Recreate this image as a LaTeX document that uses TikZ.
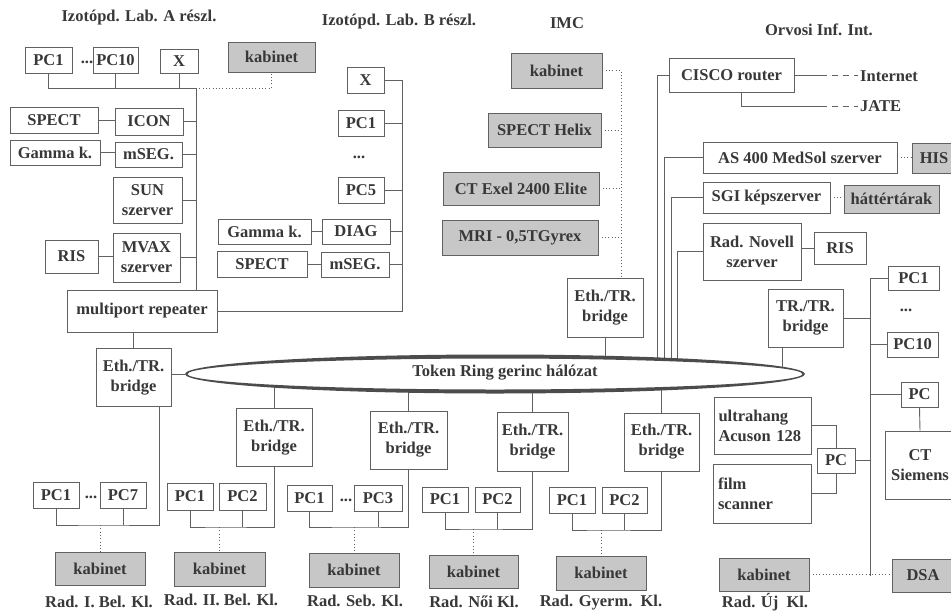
\documentclass[tikz,border=0pt]{standalone}
\usepackage{fontspec}
\setmainfont{Liberation Serif}
\usetikzlibrary{positioning, shapes.geometric}
\definecolor{linec}{gray}{0.38}
\definecolor{txtc}{gray}{0.22}
\definecolor{kabc}{gray}{0.78}
\definecolor{ringc}{gray}{0.3}

\begin{document}
\begin{tikzpicture}[
  x=1pt, y=-1pt,
  every node/.style={font=\fontsize{16.5}{20}\selectfont\bfseries, text=txtc},
  box/.style={draw=linec, line width=0.9pt, inner sep=0pt, align=center},
  gbox/.style={box, fill=kabc},
  pc/.style={box, minimum width=46pt, minimum height=26pt},
  bridge/.style={box, minimum width=75pt, minimum height=58pt},
  kab/.style={gbox, minimum width=90pt, minimum height=33pt},
  conn/.style={linec, line width=0.9pt},
  dotc/.style={linec, line width=0.9pt, dash pattern=on 0.9pt off 2.4pt},
  dashc/.style={linec, line width=0.9pt, dash pattern=on 6pt off 5pt},
]
\useasboundingbox (0,0) rectangle (951,614);
\fill[white] (0,0) rectangle (951,614);

% headers
\node (hA) at (139,18) {Izotópd. Lab. A részl.};
\node (hB) at (399,22) {Izotópd. Lab. B részl.};
\node (hI) at (567,23) {IMC};
\node (hO) at (819,30) {Orvosi Inf. Int.};

% Izotopd. Lab. A
\node[pc, minimum width=47pt] (aPC1) at (48.5,60) {PC1};
\node (adots) at (87,62) {...};
\node[pc, minimum width=45pt] (aPC10) at (115.5,60) {PC10};
\node[box, minimum width=38pt, minimum height=24pt] (aX) at (179,61) {X};
\node[kab, minimum width=87pt, minimum height=30pt] (akab) at (271.5,57) {kabinet};
\node[box, minimum width=88pt, minimum height=26pt] (aSPECT) at (54,120) {SPECT};
\node[box, minimum width=68pt, minimum height=27pt] (aICON) at (149,121.5) {ICON};
\node[box, minimum width=90pt, minimum height=25pt] (aGamma) at (55,152.5) {Gamma k.};
\node[box, minimum width=67pt, minimum height=25pt] (amSEG) at (148.5,154.5) {mSEG.};
\node[box, minimum width=69pt, minimum height=46pt] (aSUN) at (147.5,200) {SUN\\szerver};
\node[box, minimum width=53pt, minimum height=33pt] (aRIS) at (71.5,256.5) {RIS};
\node[box, minimum width=67pt, minimum height=49pt] (aMVAX) at (146.5,257.5) {MVAX\\szerver};
\node[box, minimum width=150pt, minimum height=42pt] (amulti) at (142,311) {multiport repeater};
\node[bridge] (aBr) at (133.5,377.5) {Eth./TR.\\bridge};

\coordinate (abus) at (196,88);
\draw[conn] (aPC1.south) |- (abus);
\draw[conn] (aPC10.south) -- (aPC10.south |- abus);
\draw[conn] (aX.south) -- (aX.south |- abus);
\draw[conn] (abus) -- (abus |- amulti.north);
\draw[conn] (aSPECT.east) -- (aSPECT.east -| aICON.west);
\draw[conn] (aICON.east) -- (aICON.east -| abus);
\draw[conn] (aGamma.east) -- (aGamma.east -| amSEG.west);
\draw[conn] (amSEG.east) -- (amSEG.east -| abus);
\draw[conn] (aSUN.east) -- (aSUN.east -| abus);
\draw[conn] (aRIS.east) -- (aRIS.east -| aMVAX.west);
\draw[conn] (aMVAX.east) -- (aMVAX.east -| abus);
\draw[conn] (amulti.south -| aBr.north) -- (aBr.north);
\draw[dotc] (abus) -| (akab.south);

% Izotopd. Lab. B
\node[box, minimum width=37pt, minimum height=26pt] (bX) at (365.5,80) {X};
\node[pc] (bPC1) at (361,123.5) {PC1};
\node (bdots) at (359,157) {...};
\node[pc] (bPC5) at (361,190) {PC5};
\node[box, minimum width=93pt, minimum height=25pt] (bGamma) at (264.5,231.5) {Gamma k.};
\node[box, minimum width=68pt, minimum height=25pt] (bDIAG) at (356,231.5) {DIAG};
\node[box, minimum width=90pt, minimum height=26pt] (bSPECT) at (262,264) {SPECT};
\node[box, minimum width=68pt, minimum height=25pt] (bmSEG) at (355,264.5) {mSEG.};

\coordinate (bbus) at (402,80);
\draw[conn] (bX.east) -- (bbus) -- (bbus |- amulti.east) -- (amulti.east);
\draw[conn] (bPC1.east) -- (bPC1.east -| bbus);
\draw[conn] (bPC5.east) -- (bPC5.east -| bbus);
\draw[conn] (bGamma.east) -- (bDIAG.west);
\draw[conn] (bDIAG.east) -- (bDIAG.east -| bbus);
\draw[conn] (bSPECT.east) -- (bSPECT.east -| bmSEG.west);
\draw[conn] (bmSEG.east) -- (bmSEG.east -| bbus);

% IMC
\node[kab, minimum width=91pt, minimum height=35pt] (ikab) at (556.5,70.5) {kabinet};
\node[gbox, minimum width=113pt, minimum height=34pt] (iHelix) at (544.5,130) {SPECT Helix};
\node[gbox, minimum width=156pt, minimum height=33pt] (iCT) at (521,188.5) {CT Exel 2400 Elite};
\node[gbox, minimum width=156pt, minimum height=35pt] (iMRI) at (520,237.5) {MRI - 0,5TGyrex};
\node[bridge, minimum width=76pt, minimum height=59pt] (iBr) at (605,307.5) {Eth./TR.\\bridge};

\coordinate (ibus) at (621,70.5);
\draw[dotc] (ikab.east) -- (ibus) -- (ibus |- iBr.north);
\draw[dotc] (iHelix.east) -- (iHelix.east -| ibus);
\draw[dotc] (iCT.east) -- (iCT.east -| ibus);
\draw[dotc] (iMRI.east) -- (iMRI.east -| ibus);

% Orvosi Inf. Int.
\node[box, minimum width=125pt, minimum height=34pt] (oCisco) at (731.5,75) {CISCO router};
\node[anchor=west, inner sep=2pt] (inet) at (858,76) {Internet};
\node[anchor=west, inner sep=2pt] (jate) at (858,106) {JATE};
\node[box, minimum width=194pt, minimum height=31pt] (oAS) at (800,157.5) {AS 400 MedSol szerver};
\node[gbox, minimum width=44pt, minimum height=30pt] (oHIS) at (934,158) {HIS};
\node[box, minimum width=127pt, minimum height=31pt] (oSGI) at (766.5,197.5) {SGI képszerver};
\node[gbox, minimum width=95pt, minimum height=28pt] (oHat) at (891.5,199) {háttértárak};
\node[box, minimum width=98pt, minimum height=57pt] (oNovell) at (752,251.5) {Rad. Novell\\szerver};
\node[box, minimum width=52pt, minimum height=32pt] (oRIS) at (840,248) {RIS};
\node[bridge] (oTR) at (805.5,318) {TR./TR.\\bridge};
\node[box, minimum width=51pt, minimum height=24pt] (oPC1) at (913.5,278) {PC1};
\node (odots) at (906,310) {...};
\node[box, minimum width=51pt, minimum height=25pt] (oPC10) at (912.5,344.5) {PC10};
\node[box, minimum width=37pt, minimum height=25pt] (oPC) at (919.5,394.5) {PC};
\node[box, minimum width=70pt, minimum height=68pt] (oCT) at (920,465) {CT\\Siemens};
\node[box, minimum width=97pt, minimum height=57pt, text width=88pt, align=left] (oUltra) at (762.5,425.5) {ultrahang\\Acuson 128};
\node[box, minimum width=98pt, minimum height=59pt, text width=88pt, align=left] (oFilm) at (762,493.5) {film\\scanner};
\node[box, minimum width=38pt, minimum height=25pt] (oPCu) at (836,460.5) {PC};
\node[kab] (okab) at (764,574.5) {kabinet};
\node[gbox, minimum width=62pt, minimum height=33pt] (oDSA) at (923,575.5) {DSA};
\node (rad6) at (765,602) {Rad. Új\ \ Kl.};

\draw[conn] (oCisco.east) -- ++(27,0) coordinate (ci1);
\draw[dashc] (ci1) -- (ci1 -| inet.west);
\coordinate (ci2) at (821,106);
\draw[conn] ([xshift=10pt]oCisco.south) |- (ci2);
\draw[dashc] (ci2) -- (jate.west);
\draw[dotc] (oAS.east) -- (oAS.east -| oHIS.west);
\draw[dotc] (oSGI.east) -- (oSGI.east -| oHat.west);
\draw[conn] (oRIS.west) -- (oRIS.west -| oNovell.east);

\coordinate (obus) at (870,278);
\draw[conn] (oPC1.west) -- (obus) -- (obus |- oDSA.west);
\draw[conn] (oPC10.west) -- (oPC10.west -| obus);
\draw[conn] (oPC.west) -- (oPC.west -| obus);
\draw[conn] (oTR.east) -- (oTR.east -| obus);
\draw[conn] (oPCu.east) -- (oPCu.east -| obus);
\draw[conn] (oPC.south) -- (oCT.north);
\draw[conn] (oUltra.east) -| (oPCu.north);
\draw[conn] (oFilm.east) -| (oPCu.south);
\draw[dotc] (okab.east) -- (okab.east -| oDSA.west);

% bottom departments
\node[pc] (c1a) at (56,495) {PC1};
\node (c1dots) at (91,497) {...};
\node[pc] (c1b) at (123,495) {PC7};
\node[kab] (kab1) at (100,568.5) {kabinet};
\node (rad1) at (99,602) {Rad. I. Bel. Kl.};

\node[bridge, minimum width=76pt] (b2) at (274,437.5) {Eth./TR.\\bridge};
\node[pc, minimum height=27pt] (c2a) at (190,496.5) {PC1};
\node[pc, minimum width=47pt, minimum height=27pt] (c2b) at (242.5,496.5) {PC2};
\node[kab, minimum width=91pt, minimum height=34pt] (kab2) at (219.5,569) {kabinet};
\node (rad2) at (221,600) {Rad. II. Bel. Kl.};

\node[bridge, minimum width=77pt] (b3) at (408.5,440) {Eth./TR.\\bridge};
\node[pc, minimum width=45pt] (c3a) at (309.5,498) {PC1};
\node (c3dots) at (346,500) {...};
\node[pc, minimum width=48pt] (c3b) at (378,498) {PC3};
\node[kab, minimum height=34pt] (kab3) at (354,570) {kabinet};
\node (rad3) at (355,601) {Rad. Seb. Kl.};

\node[bridge, minimum width=71pt, minimum height=59pt] (b4) at (532.5,441.5) {Eth./TR.\\bridge};
\node[pc, minimum height=25pt] (c4a) at (445,499.5) {PC1};
\node[pc, minimum width=45pt, minimum height=25pt] (c4b) at (497.5,499.5) {PC2};
\node[kab, minimum width=89pt] (kab4) at (473.5,571.5) {kabinet};
\node (rad4) at (474,602) {Rad. Női Kl.};

\node[bridge] (b5) at (661.5,442) {Eth./TR.\\bridge};
\node[pc] (c5a) at (572,500) {PC1};
\node[pc, minimum width=45pt] (c5b) at (624.5,500) {PC2};
\node[kab, minimum height=34pt] (kab5) at (601,573) {kabinet};
\node (rad5) at (601,603) {Rad. Gyerm.\ \ Kl.};

\coordinate (k1) at (100,525);
\coordinate (k2) at (219.5,527);
\coordinate (k3) at (354,527);
\coordinate (k4) at (473.5,529);
\coordinate (k5) at (601,530);
\draw[conn] ([xshift=26pt]aBr.south) |- (k1) -| (c1a.south);
\draw[conn] (c1b.south) -- (c1b.south |- k1);
\draw[dotc] (k1) -- (kab1.north);
\draw[conn] (b2.south) |- (k2) -| (c2a.south);
\draw[conn] (c2b.south) -- (c2b.south |- k2);
\draw[dotc] (k2) -- (kab2.north);
\draw[conn] (b3.south) |- (k3) -| (c3a.south);
\draw[conn] (c3b.south) -- (c3b.south |- k3);
\draw[dotc] (k3) -- (kab3.north);
\draw[conn] (b4.south) |- (k4) -| (c4a.south);
\draw[conn] (c4b.south) -- (c4b.south |- k4);
\draw[dotc] (k4) -- (kab4.north);
\draw[conn] (b5.south) |- (k5) -| (c5a.south);
\draw[conn] (c5b.south) -- (c5b.south |- k5);
\draw[dotc] (k5) -- (kab5.north);

% Token Ring backbone
\node[ellipse, minimum width=620pt, minimum height=39pt, inner sep=0pt] (ring) at (495,374) {};
\coordinate (ol1) at (657,374);
\coordinate (ol2) at (664,374);
\coordinate (ol3) at (671,374);
\coordinate (ol4) at (677,374);
\draw[conn] (oCisco.west) -| (ol1);
\draw[conn] (oAS.west) -| (ol2);
\draw[conn] (oSGI.west) -| (ol3);
\draw[conn] (oNovell.west) -| (ol4);
\draw[conn] ([xshift=-23pt]oTR.south) -- ++(0,30);
\draw[conn] (iBr.south) -- (iBr.south |- ring.center);
\draw[conn] (b2.north) -- (b2.north |- ring.center);
\draw[conn] (b3.north) -- (b3.north |- ring.center);
\draw[conn] (b4.north) -- (b4.north |- ring.center);
\draw[conn] (b5.north) -- (b5.north |- ring.center);
\draw[conn] (aBr.east |- ring.west) -- (ring.west);
\fill[white] (ring.center) ellipse [x radius=309, y radius=17];
\fill[ringc, even odd rule] (ring.center) ellipse [x radius=310, y radius=19.5]
  (ring.center) ellipse [x radius=307.5, y radius=15.5];
\node (trtext) at (505,373) {Token Ring gerinc hálózat};

\end{tikzpicture}
\end{document}
